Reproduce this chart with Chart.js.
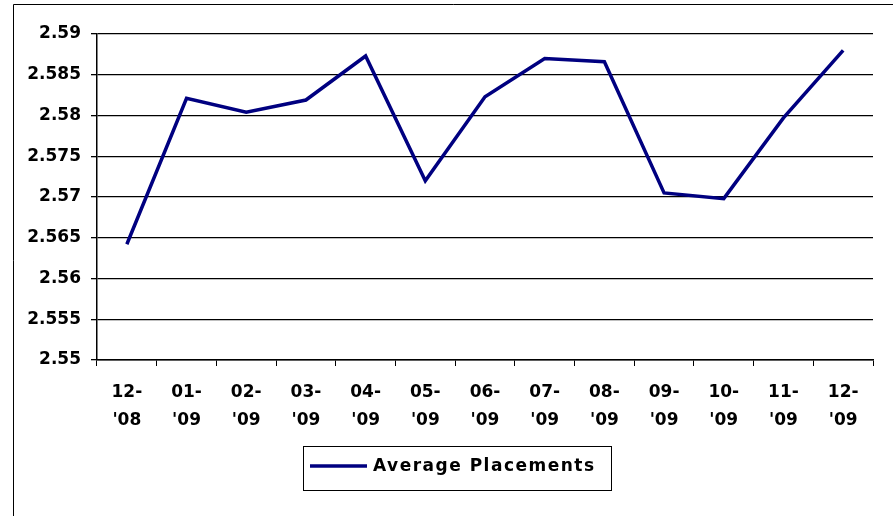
<!DOCTYPE html>
<html>
<head>
<meta charset="utf-8">
<script src="https://cdn.jsdelivr.net/npm/chart.js@4"></script>
<style>
  html, body { margin: 0; padding: 0; background: #fff; }
  #wrap { width: 893px; height: 516px; position: relative; }
</style>
</head>
<body>
<div id="wrap"><canvas id="placementsChart" width="893" height="516"></canvas></div>
<script>
// Chart data
const months = [['12-', "'08"], ['01-', "'09"], ['02-', "'09"], ['03-', "'09"], ['04-', "'09"], ['05-', "'09"],
  ['06-', "'09"], ['07-', "'09"], ['08-', "'09"], ['09-', "'09"], ['10-', "'09"], ['11-', "'09"], ['12-', "'09"]];
const avgPlacements = [2.5642, 2.5821, 2.5804, 2.5819, 2.5873, 2.5720, 2.5823, 2.5870, 2.5866, 2.5705, 2.5698, 2.5797, 2.5880];
const seriesName = 'Average Placements';
const yMin = 2.55;
const yMax = 2.59;
const yStep = 0.005;

const fontFamily = '"DejaVu Sans", "Liberation Sans", Arial, sans-serif';
const navy = '#000080';

// Draws the outer frame and the boxed legend (Excel style)
const framePlugin = {
  id: 'frame',
  beforeDraw(chart) {
    const ctx = chart.ctx;
    ctx.save();
    ctx.strokeStyle = '#000';
    ctx.lineWidth = 1;
    ctx.beginPath();
    ctx.moveTo(13.5, chart.height);
    ctx.lineTo(13.5, 4.5);
    ctx.lineTo(chart.width, 4.5);
    ctx.stroke();
    ctx.restore();
  },
  afterDraw(chart) {
    const ctx = chart.ctx;
    const ds = chart.data.datasets[0];
    ctx.save();
    // legend box
    ctx.strokeStyle = '#000';
    ctx.lineWidth = 1;
    ctx.strokeRect(303.5, 446.5, 308, 44);
    // line sample
    ctx.strokeStyle = ds.borderColor;
    ctx.lineWidth = ds.borderWidth;
    ctx.beginPath();
    ctx.moveTo(310, 466);
    ctx.lineTo(367, 466);
    ctx.stroke();
    // label
    ctx.fillStyle = '#000';
    ctx.font = 'bold 17px ' + fontFamily;
    if ('letterSpacing' in ctx) ctx.letterSpacing = '1.5px';
    ctx.textBaseline = 'middle';
    ctx.textAlign = 'left';
    ctx.fillText(ds.label, 373, 467);
    ctx.restore();
  }
};

const ctx = document.getElementById('placementsChart').getContext('2d');
const placementsChart = new Chart(ctx, {
  type: 'line',
  data: {
    labels: months,
    datasets: [{
      label: seriesName,
      data: avgPlacements,
      borderColor: navy,
      backgroundColor: navy,
      borderWidth: 3.5,
      pointRadius: 0,
      tension: 0,
      fill: false
    }]
  },
  options: {
    responsive: false,
    animation: false,
    layout: {
      padding: { left: 0, right: 20, top: 34, bottom: 76 }
    },
    plugins: {
      legend: { display: false },
      tooltip: { enabled: false }
    },
    scales: {
      x: {
        offset: true,
        grid: {
          offset: true,
          drawOnChartArea: false,
          drawTicks: true,
          tickLength: 6,
          color: '#000',
          lineWidth: 1
        },
        border: { color: '#000', width: 1.5 },
        ticks: {
          color: '#000',
          padding: 13,
          maxRotation: 0,
          autoSkip: false,
          font: { family: fontFamily, size: 17, weight: 'bold', lineHeight: 28 / 17 }
        },
        afterFit(scale) { scale.height = 80; }
      },
      y: {
        min: yMin,
        max: yMax,
        grid: {
          color: '#000',
          lineWidth: 1.3,
          tickLength: 6,
          drawTicks: true
        },
        border: { color: '#000', width: 1.5 },
        ticks: {
          stepSize: yStep,
          color: '#000',
          padding: 10,
          font: { family: fontFamily, size: 17, weight: 'bold' },
          callback: (v) => String(parseFloat(Number(v).toFixed(3)))
        },
        afterFit(scale) { scale.width = 97; }
      }
    }
  },
  plugins: [framePlugin]
});
</script>
</body>
</html>
